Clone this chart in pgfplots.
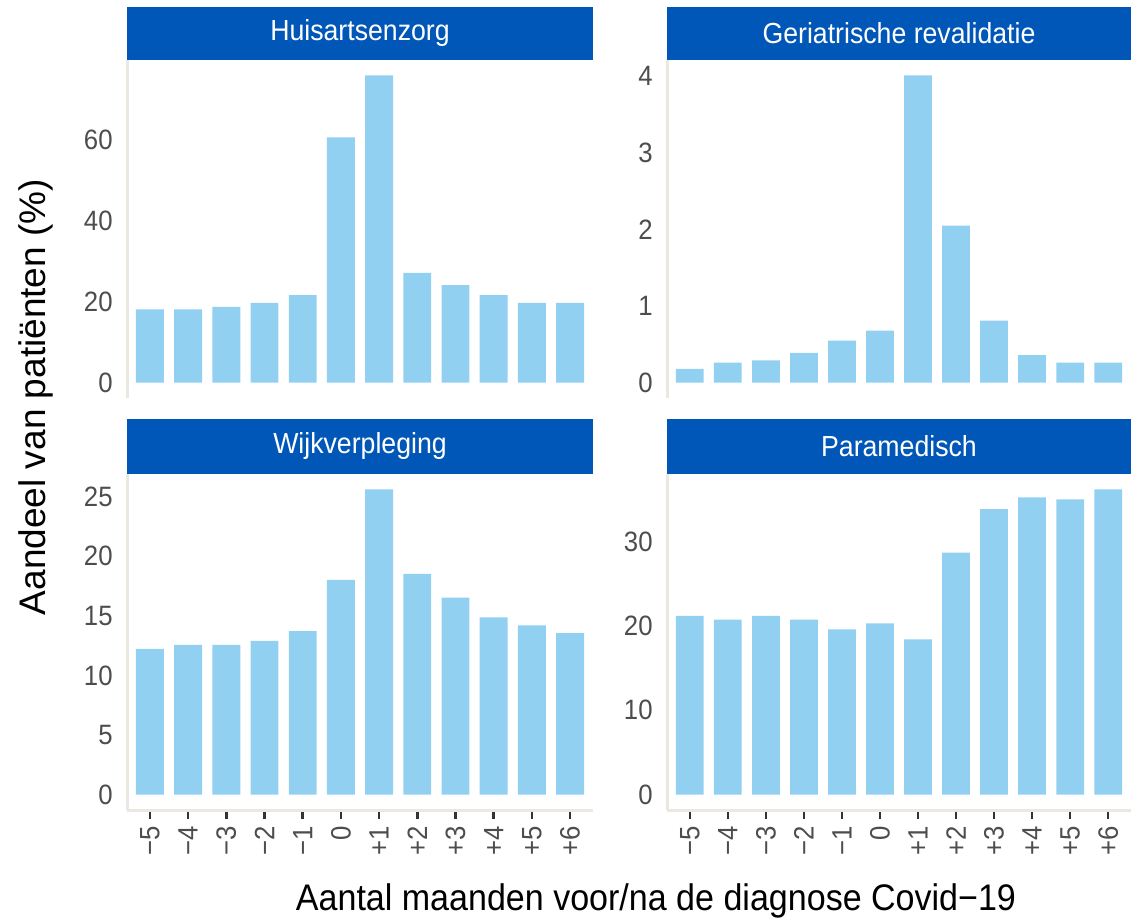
\documentclass[border=0pt]{standalone}
\usepackage{fontspec}
\setmainfont{Liberation Sans}[FakeStretch=0.92]
\newfontfamily\plainsans{Liberation Sans}
\usepackage{pgfplots}
\pgfplotsset{compat=1.18}
\definecolor{barblue}{HTML}{92D0F2}
\definecolor{stripblue}{HTML}{0057B7}
\definecolor{axline}{HTML}{ECE7E1}
\definecolor{ticklab}{HTML}{4D4D4D}
\definecolor{tickmark}{HTML}{333333}

\pgfplotsset{
  panel/.style={
    scale only axis,
    anchor=north west,
    clip=false,
    xmin=-0.6, xmax=11.6,
    axis lines=left,
    axis line style={draw=none},
    ybar, bar width=0.73,
    /pgf/number format/assume math mode=true,
    tick align=outside,
    major tick length=4.5pt,
    ytick style={draw=none},
    xtick style={tickmark, line width=1.3pt},
    yticklabel style={font=\fontsize{14}{16}\selectfont, text=ticklab, inner sep=2.5pt},
    xticklabel style={font=\fontsize{14}{16}\selectfont, text=ticklab, rotate=90, anchor=east, inner sep=3.5pt},
  },
  toprow/.style={panel, height=169pt, xtick=\empty},
  botrow/.style={panel, height=168pt, xtick={0,...,11},
    xticklabels={−5,−4,−3,−2,−1,0,+1,+2,+3,+4,+5,+6}},
}
\newcommand{\facetstrip}[2]{%
  \fill[stripblue] (rel axis cs:0,1) rectangle ([yshift=#2]rel axis cs:1,1);
  \node[text=white, font=\fontsize{14.5}{17}\selectfont] at ([yshift=#2/2]rel axis cs:0.5,1) {#1};
}
\newcommand{\panelleftline}{\draw[axline, line width=1.5pt] (rel axis cs:0,0) -- (rel axis cs:0,1);}
\newcommand{\panelbottomline}{\draw[axline, line width=1.5pt] (rel axis cs:0,0) -- (rel axis cs:1,0);}

\begin{document}
\begin{tikzpicture}
\useasboundingbox (0,0) rectangle (566pt,-459.5pt);

% Top left
\begin{axis}[toprow, at={(63.5pt,-30pt)}, width=233pt,
  ymin=-3.8, ymax=79.7, ytick={0,20,40,60}]
\addplot[fill=barblue, draw=none] coordinates {
  (0,18.1) (1,18.1) (2,18.7) (3,19.7) (4,21.6) (5,60.6)
  (6,75.9) (7,27.1) (8,24.1) (9,21.6) (10,19.7) (11,19.7)};
\panelleftline
\facetstrip{Huisartsenzorg}{26.5pt}
\end{axis}

% Top right
\begin{axis}[toprow, at={(333.5pt,-30pt)}, width=232pt,
  ymin=-0.2, ymax=4.21, ytick={0,1,2,3,4}]
\addplot[fill=barblue, draw=none] coordinates {
  (0,0.18) (1,0.26) (2,0.29) (3,0.39) (4,0.55) (5,0.68)
  (6,4.01) (7,2.05) (8,0.81) (9,0.36) (10,0.26) (11,0.26)};
\panelleftline
\facetstrip{Geriatrische revalidatie}{26.5pt}
\end{axis}

% Bottom left
\begin{axis}[botrow, at={(63.5pt,-237pt)}, width=233pt,
  ymin=-1.28, ymax=26.91, ytick={0,5,10,15,20,25}]
\addplot[fill=barblue, draw=none] coordinates {
  (0,12.24) (1,12.57) (2,12.57) (3,12.9) (4,13.73) (5,18.03)
  (6,25.63) (7,18.52) (8,16.54) (9,14.88) (10,14.22) (11,13.56)};
\panelleftline
\panelbottomline
\facetstrip{Wijkverpleging}{27.5pt}
\end{axis}

% Bottom right
\begin{axis}[botrow, at={(333.5pt,-237pt)}, width=232pt,
  ymin=-1.81, ymax=38.01, ytick={0,10,20,30}]
\addplot[fill=barblue, draw=none] coordinates {
  (0,21.2) (1,20.75) (2,21.2) (3,20.75) (4,19.6) (5,20.3)
  (6,18.4) (7,28.7) (8,33.85) (9,35.25) (10,35.0) (11,36.2)};
\panelleftline
\panelbottomline
\facetstrip{Paramedisch}{27.5pt}
\end{axis}

\node[rotate=90, font=\plainsans\fontsize{18.5}{22}\selectfont] at (18pt,-198.5pt) {Aandeel van patiënten (\%)};
\node[anchor=base, font=\fontsize{18.5}{22}\selectfont] at (328pt,-455.5pt) {Aantal maanden voor/na de diagnose Covid−19};
\end{tikzpicture}
\end{document}
